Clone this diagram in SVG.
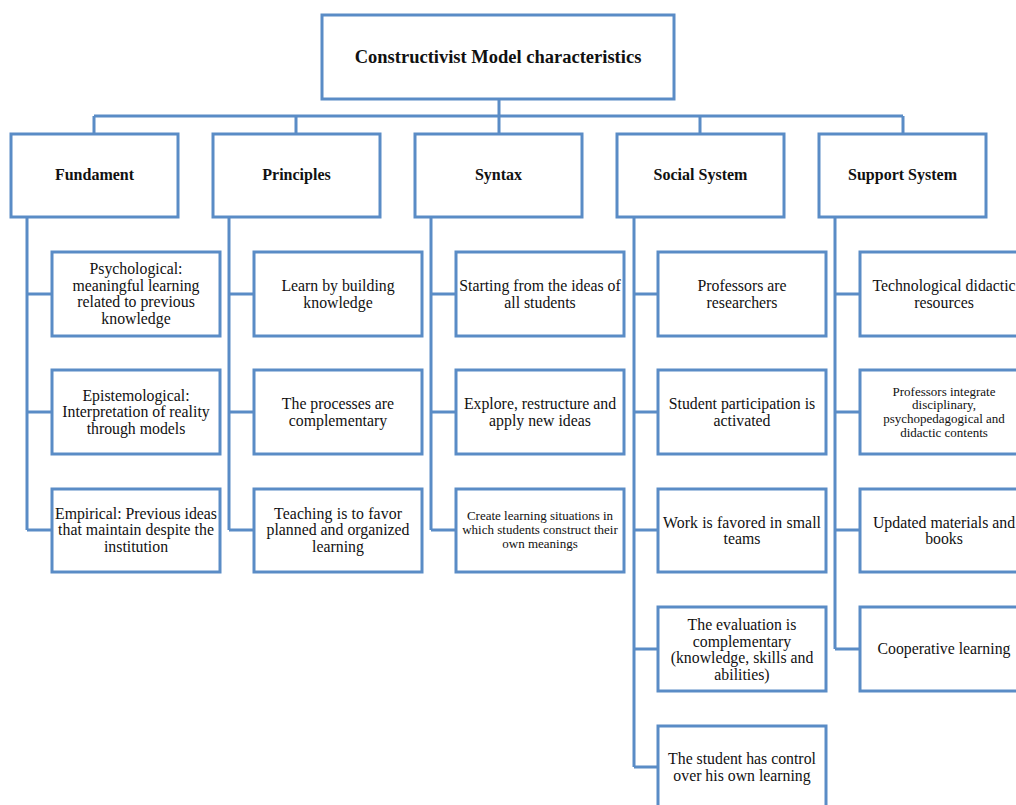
<svg xmlns="http://www.w3.org/2000/svg" width="1016" height="805" viewBox="0 0 1016 805">
  <style>
    .box { fill: #ffffff; stroke: #5a8cc6; stroke-width: 3; }
    .wire { fill: none; stroke: #5a8cc6; stroke-width: 3; }
    .t { font-family: "Liberation Serif", "Times New Roman", serif; fill: #111; text-anchor: middle; }
    .title { font-size: 18.5px; font-weight: bold; }
    .head { font-size: 16px; font-weight: bold; }
    .body { font-size: 15.8px; }
    .small { font-size: 13px; }
  </style>
  <rect width="1016" height="805" fill="#ffffff"/>

  <!-- connectors -->
  <g id="connectors" class="wire">
    <path d="M499 99 V116 M94 116 H903 M94 116 V134 M296 116 V134 M499 116 V134 M700 116 V134 M903 116 V134"/>
    <!-- Fundament branch -->
    <path d="M27 217 V530 M27 294 H52 M27 412 H52 M27 530 H52"/>
    <!-- Principles branch -->
    <path d="M229 217 V530 M229 294 H254 M229 412 H254 M229 530 H254"/>
    <!-- Syntax branch -->
    <path d="M431 217 V530 M431 294 H456 M431 412 H456 M431 530 H456"/>
    <!-- Social System branch -->
    <path d="M634 217 V767 M634 294 H658 M634 412 H658 M634 530 H658 M634 649 H658 M634 767 H658"/>
    <!-- Support System branch -->
    <path d="M835 217 V649 M835 294 H860 M835 412 H860 M835 530 H860 M835 649 H860"/>
  </g>

  <!-- root -->
  <g id="root">
    <rect class="box" x="322" y="15" width="352" height="84"/>
    <text class="t title" x="498" y="63">Constructivist  Model characteristics</text>
  </g>

  <!-- category headers -->
  <g id="fundament">
    <rect class="box" x="11" y="134" width="167" height="83"/>
    <text class="t head" x="94.5" y="180">Fundament</text>
  </g>
  <g id="principles">
    <rect class="box" x="213" y="134" width="167" height="83"/>
    <text class="t head" x="296.5" y="180">Principles</text>
  </g>
  <g id="syntax">
    <rect class="box" x="415" y="134" width="167" height="83"/>
    <text class="t head" x="498.5" y="180">Syntax</text>
  </g>
  <g id="social-system">
    <rect class="box" x="617" y="134" width="167" height="83"/>
    <text class="t head" x="700.5" y="180">Social System</text>
  </g>
  <g id="support-system">
    <rect class="box" x="819" y="134" width="167" height="83"/>
    <text class="t head" x="902.5" y="180">Support System</text>
  </g>

  <!-- Fundament items -->
  <g id="f1">
    <rect class="box" x="52" y="252" width="168" height="84"/>
    <text class="t body" x="136" y="274"><tspan x="136">Psychological:</tspan><tspan x="136" dy="16.5" textLength="127" lengthAdjust="spacing">meaningful learning</tspan><tspan x="136" dy="16.5">related to previous</tspan><tspan x="136" dy="16.5">knowledge</tspan></text>
  </g>
  <g id="f2">
    <rect class="box" x="52" y="370" width="168" height="84"/>
    <text class="t body" x="136" y="400.5"><tspan x="136">Epistemological:</tspan><tspan x="136" dy="16.5">Interpretation of reality</tspan><tspan x="136" dy="16.5">through models</tspan></text>
  </g>
  <g id="f3">
    <rect class="box" x="52" y="489" width="168" height="83"/>
    <text class="t body" x="136" y="518.5"><tspan x="136" textLength="162" lengthAdjust="spacing">Empirical: Previous ideas</tspan><tspan x="136" dy="16.5" textLength="156" lengthAdjust="spacing">that maintain despite the</tspan><tspan x="136" dy="16.5">institution</tspan></text>
  </g>

  <!-- Principles items -->
  <g id="p1">
    <rect class="box" x="254" y="252" width="168" height="84"/>
    <text class="t body" x="338" y="291"><tspan x="338">Learn by building</tspan><tspan x="338" dy="16.5">knowledge</tspan></text>
  </g>
  <g id="p2">
    <rect class="box" x="254" y="370" width="168" height="84"/>
    <text class="t body" x="338" y="409"><tspan x="338">The processes are</tspan><tspan x="338" dy="16.5">complementary</tspan></text>
  </g>
  <g id="p3">
    <rect class="box" x="254" y="489" width="168" height="83"/>
    <text class="t body" x="338" y="518.5"><tspan x="338" textLength="128" lengthAdjust="spacing">Teaching is to favor</tspan><tspan x="338" dy="16.5" textLength="143" lengthAdjust="spacing">planned and organized</tspan><tspan x="338" dy="16.5">learning</tspan></text>
  </g>

  <!-- Syntax items -->
  <g id="s1">
    <rect class="box" x="456" y="252" width="168" height="84"/>
    <text class="t body" x="540" y="291"><tspan x="540">Starting from the ideas of</tspan><tspan x="540" dy="16.5">all students</tspan></text>
  </g>
  <g id="s2">
    <rect class="box" x="456" y="370" width="168" height="84"/>
    <text class="t body" x="540" y="409"><tspan x="540">Explore, restructure and</tspan><tspan x="540" dy="16.5">apply new ideas</tspan></text>
  </g>
  <g id="s3">
    <rect class="box" x="456" y="489" width="168" height="83"/>
    <text class="t small" x="540" y="520"><tspan x="540">Create learning situations in</tspan><tspan x="540" dy="14">which students construct their</tspan><tspan x="540" dy="14">own meanings</tspan></text>
  </g>

  <!-- Social System items -->
  <g id="c1">
    <rect class="box" x="658" y="252" width="168" height="84"/>
    <text class="t body" x="742" y="291"><tspan x="742">Professors are</tspan><tspan x="742" dy="16.5">researchers</tspan></text>
  </g>
  <g id="c2">
    <rect class="box" x="658" y="370" width="168" height="84"/>
    <text class="t body" x="742" y="409"><tspan x="742">Student participation is</tspan><tspan x="742" dy="16.5">activated</tspan></text>
  </g>
  <g id="c3">
    <rect class="box" x="658" y="489" width="168" height="83"/>
    <text class="t body" x="742" y="527.5"><tspan x="742" textLength="158" lengthAdjust="spacing">Work is favored in small</tspan><tspan x="742" dy="16.5">teams</tspan></text>
  </g>
  <g id="c4">
    <rect class="box" x="658" y="607" width="168" height="84"/>
    <text class="t body" x="742" y="630"><tspan x="742">The evaluation is</tspan><tspan x="742" dy="16.5">complementary</tspan><tspan x="742" dy="16.5">(knowledge, skills and</tspan><tspan x="742" dy="16.5">abilities)</tspan></text>
  </g>
  <g id="c5">
    <rect class="box" x="658" y="726" width="168" height="84"/>
    <text class="t body" x="742" y="764"><tspan x="742">The student has control</tspan><tspan x="742" dy="16.5">over his own learning</tspan></text>
  </g>

  <!-- Support System items -->
  <g id="u1">
    <rect class="box" x="860" y="252" width="168" height="84"/>
    <text class="t body" x="944" y="291"><tspan x="944">Technological didactic</tspan><tspan x="944" dy="16.5">resources</tspan></text>
  </g>
  <g id="u2">
    <rect class="box" x="860" y="370" width="168" height="84"/>
    <text class="t small" x="944" y="395.5"><tspan x="944">Professors integrate</tspan><tspan x="944" dy="13.7">disciplinary,</tspan><tspan x="944" dy="13.7">psychopedagogical and</tspan><tspan x="944" dy="13.7">didactic contents</tspan></text>
  </g>
  <g id="u3">
    <rect class="box" x="860" y="489" width="168" height="83"/>
    <text class="t body" x="944" y="527.5"><tspan x="944">Updated materials and</tspan><tspan x="944" dy="16.5">books</tspan></text>
  </g>
  <g id="u4">
    <rect class="box" x="860" y="607" width="168" height="84"/>
    <text class="t body" x="944" y="654"><tspan x="944">Cooperative learning</tspan></text>
  </g>
</svg>
